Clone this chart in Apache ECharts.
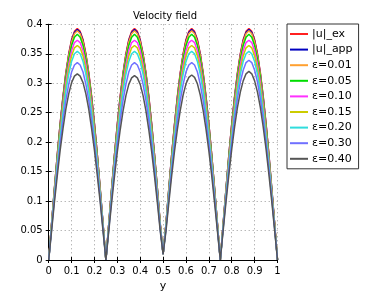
<!DOCTYPE html>
<html><head><meta charset="utf-8">
<script src="https://cdn.jsdelivr.net/npm/echarts@6/dist/echarts.min.js"></script>
<style>html,body{margin:0;padding:0;background:#fff}#c{width:382px;height:300px}</style>
</head><body><div id="c"></div>
<script>
var yPos = [0,0.0125,0.025,0.0375,0.05,0.0625,0.075,0.0875,0.1,0.1125,0.125,0.1375,0.15,0.1625,0.175,0.1875,0.2,0.2125,0.225,0.2375,
0.25,0.2625,0.275,0.2875,0.3,0.3125,0.325,0.3375,0.35,0.3625,0.375,0.3875,0.4,0.4125,0.425,0.4375,0.45,0.4625,0.475,0.4875,
0.5,0.5125,0.525,0.5375,0.55,0.5625,0.575,0.5875,0.6,0.6125,0.625,0.6375,0.65,0.6625,0.675,0.6875,0.7,0.7125,0.725,0.7375,
0.75,0.7625,0.775,0.7875,0.8,0.8125,0.825,0.8375,0.85,0.8625,0.875,0.8875,0.9,0.9125,0.925,0.9375,0.95,0.9625,0.975,0.9875,1];
var seriesNames = ['|u|_ex','|u|_app','ε=0.01','ε=0.05','ε=0.10','ε=0.15','ε=0.20','ε=0.30','ε=0.40'];
var uEx = [0,.061,.121,.178,.231,.278,.318,.350,.374,.388,.393,.388,.374,.350,.318,.278,.231,.178,.121,.061,
0,.061,.121,.178,.231,.278,.318,.350,.374,.388,.393,.388,.374,.350,.318,.278,.231,.178,.121,.061,
.01,.061,.121,.178,.231,.278,.318,.350,.374,.388,.393,.388,.374,.350,.318,.278,.231,.178,.121,.061,
0,.061,.121,.178,.231,.278,.318,.350,.374,.388,.393,.388,.374,.350,.318,.278,.231,.178,.121,.061,0];
var uApp = [0,.061,.121,.178,.230,.276,.316,.348,.372,.386,.391,.386,.372,.348,.316,.276,.230,.178,.121,.061,
0,.061,.121,.178,.230,.276,.316,.348,.372,.386,.391,.386,.372,.348,.316,.276,.230,.178,.121,.061,
.01,.061,.121,.178,.230,.276,.316,.348,.372,.386,.391,.386,.372,.348,.316,.276,.230,.178,.121,.061,
0,.061,.121,.178,.230,.276,.316,.348,.372,.386,.391,.386,.372,.348,.316,.276,.230,.178,.121,.061,0];
var eps001 = [0,.061,.120,.177,.229,.275,.315,.347,.370,.384,.389,.384,.370,.347,.315,.275,.229,.177,.120,.061,
0,.061,.120,.177,.229,.275,.315,.347,.370,.384,.389,.384,.370,.347,.315,.275,.229,.177,.120,.061,
.01,.061,.120,.177,.229,.275,.315,.347,.370,.384,.389,.384,.370,.347,.315,.275,.229,.177,.120,.061,
0,.061,.120,.177,.229,.275,.315,.347,.370,.384,.389,.384,.370,.347,.315,.275,.229,.177,.120,.061,0];
var eps005 = [0,.060,.118,.174,.225,.271,.310,.341,.364,.378,.383,.378,.364,.341,.310,.271,.225,.174,.118,.060,
0,.060,.118,.174,.225,.271,.310,.341,.364,.378,.383,.378,.364,.341,.310,.271,.225,.174,.118,.060,
.01,.060,.118,.174,.225,.271,.310,.341,.364,.378,.383,.378,.364,.341,.310,.271,.225,.174,.118,.060,
0,.060,.118,.174,.225,.271,.310,.341,.364,.378,.383,.378,.364,.341,.310,.271,.225,.174,.118,.060,0];
var eps010 = [0,.058,.115,.169,.219,.264,.302,.332,.355,.369,.373,.369,.355,.332,.302,.264,.219,.169,.115,.058,
0,.058,.115,.169,.219,.264,.302,.332,.355,.369,.373,.369,.355,.332,.302,.264,.219,.169,.115,.058,
.01,.058,.115,.169,.219,.264,.302,.332,.355,.369,.373,.369,.355,.332,.302,.264,.219,.169,.115,.058,
0,.058,.115,.169,.219,.264,.302,.332,.355,.369,.373,.369,.355,.332,.302,.264,.219,.169,.115,.058,0];
var eps015 = [0,.057,.112,.165,.214,.257,.294,.324,.346,.360,.364,.360,.346,.324,.294,.257,.214,.165,.112,.057,
0,.057,.112,.165,.214,.257,.294,.324,.346,.360,.364,.360,.346,.324,.294,.257,.214,.165,.112,.057,
.01,.057,.112,.165,.214,.257,.294,.324,.346,.360,.364,.360,.346,.324,.294,.257,.214,.165,.112,.057,
0,.057,.112,.165,.214,.257,.294,.324,.346,.360,.364,.360,.346,.324,.294,.257,.214,.165,.112,.057,0];
var eps020 = [0,.055,.109,.161,.208,.250,.286,.315,.337,.350,.354,.350,.337,.315,.286,.250,.208,.161,.109,.055,
0,.055,.109,.161,.208,.250,.286,.315,.337,.350,.354,.350,.337,.315,.286,.250,.208,.161,.109,.055,
.01,.055,.109,.161,.208,.250,.286,.315,.337,.350,.354,.350,.337,.315,.286,.250,.208,.161,.109,.055,
0,.055,.109,.161,.208,.250,.286,.315,.337,.350,.354,.350,.337,.315,.286,.250,.208,.161,.109,.055,0];
var eps030 = [0,.052,.104,.152,.197,.237,.271,.298,.319,.331,.335,.331,.319,.298,.271,.237,.197,.152,.104,.052,
0,.052,.104,.152,.197,.237,.271,.298,.319,.331,.335,.331,.319,.298,.271,.237,.197,.152,.104,.052,
.01,.052,.104,.152,.197,.237,.271,.298,.319,.331,.335,.331,.319,.298,.271,.237,.197,.152,.104,.052,
0,.053,.105,.154,.199,.240,.274,.302,.322,.335,.339,.335,.322,.302,.274,.240,.199,.154,.105,.053,0];
var eps040 = [0,.049,.098,.143,.186,.223,.256,.282,.301,.312,.316,.312,.301,.282,.256,.223,.186,.143,.098,.049,
0,.049,.097,.142,.184,.221,.253,.279,.298,.309,.313,.309,.298,.279,.253,.221,.184,.142,.097,.049,
.01,.049,.097,.143,.185,.222,.254,.280,.299,.310,.314,.310,.299,.280,.254,.222,.185,.143,.097,.049,
0,.050,.099,.145,.188,.226,.259,.285,.304,.316,.320,.316,.304,.285,.259,.226,.188,.145,.099,.050,0];
var seriesValues = [uEx,uApp,eps001,eps005,eps010,eps015,eps020,eps030,eps040];
var colors = ['#ff2020','#0000c0','#ffa030','#00dd00','#ff30ff','#cccc00','#30dddd','#7070ff','#555555'];
var xTicks = [0,0.1,0.2,0.3,0.4,0.5,0.6,0.7,0.8,0.9,1];
var yTicks = [0,0.05,0.1,0.15,0.2,0.25,0.3,0.35,0.4];

var FONT = 'DejaVu Sans';
var chart = echarts.init(document.getElementById('c'), null, {renderer:'canvas'});
var series = seriesNames.map(function(n,i){
  return {name:n,type:'line',showSymbol:false,symbol:'none',color:colors[i],
    lineStyle:{width:1.5,color:colors[i]},animation:false,
    data: yPos.map(function(x,j){return [x, seriesValues[i][j]];})};
});
var tickStyle = {show:true,inside:true,length:3,lineStyle:{color:'#000'}};
chart.setOption({
  animation:false,
  color:colors,
  title:{text:'Velocity field',left:128,top:6,textStyle:{fontFamily:FONT,fontSize:10,fontWeight:'normal',color:'#000'}},
  legend:{orient:'vertical',left:287,top:24,padding:[3,6,3,3],borderColor:'#333',borderWidth:1,
    icon:'rect',itemWidth:18,itemHeight:2,itemGap:1.6,
    textStyle:{fontFamily:FONT,fontSize:11,color:'#000',lineHeight:14,padding:[0,0,0,-1]},
    data:seriesNames},
  grid:{left:48.7,right:104.5,top:24.3,bottom:40,containLabel:false},
  xAxis:[{type:'value',min:xTicks[0],max:xTicks[xTicks.length-1],interval:0.1,
    name:'y',nameLocation:'middle',nameGap:19,nameTextStyle:{fontFamily:FONT,fontSize:11,color:'#000'},
    axisLine:{show:true,lineStyle:{color:'#000',width:1}},axisTick:tickStyle,
    axisLabel:{fontFamily:FONT,fontSize:10,color:'#000',margin:6},
    splitLine:{show:true,lineStyle:{type:[1,3],color:'#999'}}},
    {type:'value',position:'top',min:0,max:1,interval:0.1,axisLine:{show:true,lineStyle:{color:'#000'}},
    axisTick:tickStyle,axisLabel:{show:false},splitLine:{show:false}}],
  yAxis:[{type:'value',min:yTicks[0],max:yTicks[yTicks.length-1],interval:0.05,
    axisLine:{show:true,lineStyle:{color:'#000',width:1}},axisTick:tickStyle,
    axisLabel:{fontFamily:FONT,fontSize:10,color:'#000',margin:6},
    splitLine:{show:true,lineStyle:{type:[1,3],color:'#999'}}},
    {type:'value',position:'right',min:0,max:0.4,interval:0.05,axisLine:{show:true,lineStyle:{color:'#000'}},
    axisTick:tickStyle,axisLabel:{show:false},splitLine:{show:false}}],
  series:series
});
</script></body></html>
